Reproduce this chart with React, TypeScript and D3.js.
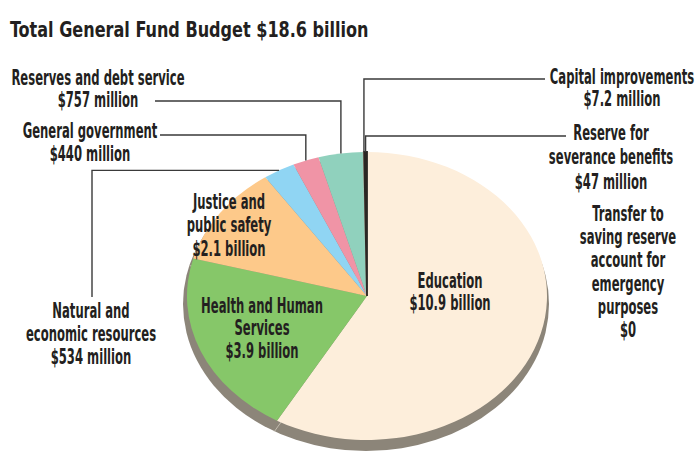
import React from "react";
import * as d3 from "d3";

// ---------- data ----------
const title = "Total General Fund Budget $18.6 billion";
const categories = [
  "Education",
  "Health and Human Services",
  "Justice and public safety",
  "Natural and economic resources",
  "General government",
  "Reserves and debt service",
  "Capital improvements",
  "Reserve for severance benefits",
];
const valuesMillions = [10900, 3900, 2100, 534, 440, 757, 7.2, 47];
const valueLabels = [
  "$10.9 billion",
  "$3.9 billion",
  "$2.1 billion",
  "$534 million",
  "$440 million",
  "$757 million",
  "$7.2 million",
  "$47 million",
];
const nameLines = [
  ["Education"],
  ["Health and Human", "Services"],
  ["Justice and", "public safety"],
  ["Natural and", "economic resources"],
  ["General government"],
  ["Reserves and debt service"],
  ["Capital improvements"],
  ["Reserve for", "severance benefits"],
];
const transferLines = ["Transfer to", "saving reserve", "account for", "emergency", "purposes"];
const transferValue = "$0";
const colors = ["#fdeedb", "#86c769", "#fdc98a", "#90d5f3", "#f094a6", "#90d1bd", "#b9ab98", "#2b2724"];

// ---------- layout ----------
const W = 699;
const H = 451;
const cx = 367;
const cy = 296;
const rx = 180;
const ry = 144;
const shadow = { dx: -1, dy: 8, grow: 3, color: "#8c8579", line: "#c2bbae" };
const FONT = "'Liberation Sans Narrow', 'DejaVu Sans Condensed', 'Roboto', sans-serif";
const SX = 0.63;
const TEXT = "#231f20";

const labelPos = [
  { x: 450, y: 288, lh: 22 },
  { x: 262, y: 313, lh: 22.5 },
  { x: 229, y: 209, lh: 23.5 },
  { x: 91, y: 318, lh: 23 },
  { x: 90, y: 138, lh: 23.5 },
  { x: 98, y: 85, lh: 22 },
  { x: 622, y: 84, lh: 22.5 },
  { x: 611, y: 140, lh: 24.5 },
];
const transferPos = { x: 628, y: 221, lh: 23.2 };

// mode "h": horizontal from label then down to slice; "v": up from label then horizontal to slice
const leaders = [
  { i: 5, x: 155, y: 101, mode: "h" },
  { i: 4, x: 160, y: 135, mode: "h" },
  { i: 3, x: 92, y: 297, mode: "v" },
  { i: 6, x: 545, y: 79, mode: "h" },
  { i: 7, x: 566, y: 136, mode: "h" },
];

function Label({ x, y, lines, lh, sx = SX, size = 20.5 }) {
  return (
    <text
      transform={`translate(${x},${y}) scale(${sx},1)`}
      textAnchor="middle"
      fontFamily={FONT}
      fontWeight="bold"
      fontSize={size}
      fill={TEXT}
    >
      {lines.map((l, k) => (
        <tspan key={k} x={0} dy={k === 0 ? 0 : lh}>
          {l}
        </tspan>
      ))}
    </text>
  );
}

export default function App() {
  const pie = d3.pie<number>().sort(null).startAngle(0).endAngle(2 * Math.PI);
  const arcsData = pie(valuesMillions);
  const arc = d3.arc<d3.PieArcDatum<number>>().innerRadius(0).outerRadius(rx);
  const sr = rx + shadow.grow;
  const sry = ry + shadow.grow;

  const edge = (a: number) => [cx + rx * Math.sin(a), cy - ry * Math.cos(a)];

  return (
    <svg
      width={W}
      height={H}
      viewBox={`0 0 ${W} ${H}`}
      style={{ position: "absolute", left: 0, top: 0, background: "#fff" }}
    >
      <rect width={W} height={H} fill="#fff" />
      <text
        transform={`translate(10,37) scale(0.812,1)`}
        fontFamily={FONT}
        fontWeight="bold"
        fontSize={22}
        fill={TEXT}
      >
        {title}
      </text>

      {/* depth / shadow */}
      <g transform={`translate(${cx + shadow.dx},${cy + shadow.dy}) scale(1,${sry / sr})`}>
        <ellipse cx={0} cy={0} rx={sr} ry={sr} fill={shadow.color} />
        {arcsData.map((d, k) => (
          <line
            key={k}
            x1={0}
            y1={0}
            x2={sr * Math.sin(d.startAngle)}
            y2={-sr * Math.cos(d.startAngle)}
            stroke={shadow.line}
            strokeWidth={1}
            vectorEffect="non-scaling-stroke"
          />
        ))}
      </g>

      {/* top face */}
      <g transform={`translate(${cx},${cy}) scale(1,${ry / rx})`}>
        {arcsData.map((d, k) => (
          <path
            key={k}
            d={arc(d) || ""}
            fill={colors[k]}
            stroke={d.endAngle - d.startAngle < 0.03 ? colors[k] : "none"}
            strokeWidth={d.endAngle - d.startAngle < 0.03 ? 1.8 : 0}
            vectorEffect="non-scaling-stroke"
          />
        ))}
      </g>

      {/* leader lines */}
      {leaders.map((L, k) => {
        const d = arcsData[L.i];
        const mid = (d.startAngle + d.endAngle) / 2;
        const [px, py] = edge(mid);
        const pts =
          L.mode === "h"
            ? [
                [L.x, L.y],
                [px, L.y],
                [px, py],
              ]
            : [
                [L.x, L.y],
                [L.x, py],
                [px, py],
              ];
        return (
          <path
            key={k}
            d={d3.line()(pts as [number, number][]) || ""}
            fill="none"
            stroke="#3a3a3a"
            strokeWidth={1.4}
          />
        );
      })}

      {/* labels */}
      {categories.map((c, k) => (
        <Label
          key={c}
          x={labelPos[k].x}
          y={labelPos[k].y}
          lh={labelPos[k].lh}
          lines={[...nameLines[k], valueLabels[k]]}
        />
      ))}
      <Label
        x={transferPos.x}
        y={transferPos.y}
        lh={transferPos.lh}
        lines={[...transferLines, transferValue]}
      />
    </svg>
  );
}
